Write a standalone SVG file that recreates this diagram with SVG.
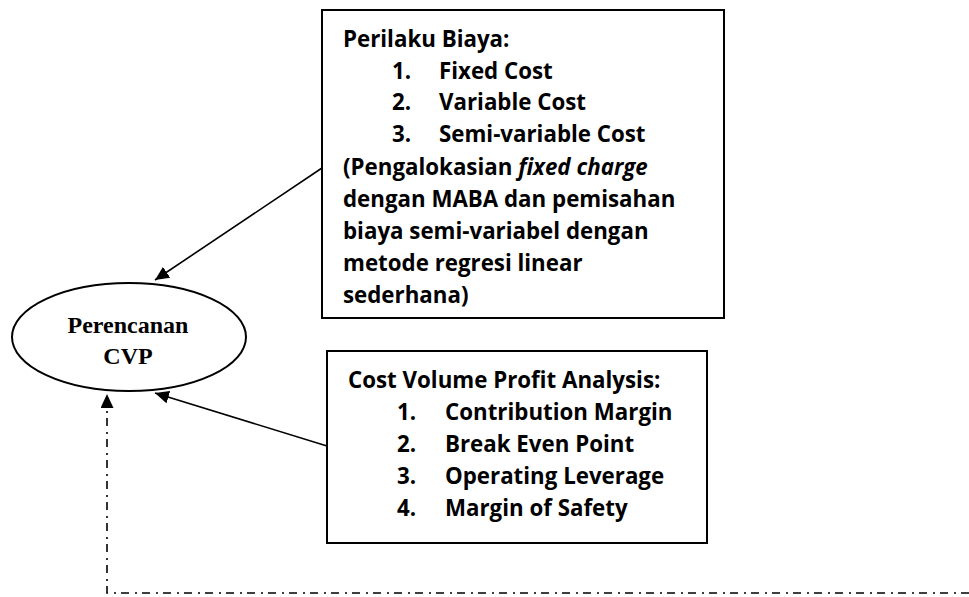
<svg xmlns="http://www.w3.org/2000/svg" width="969" height="597" viewBox="0 0 969 597">
<style>
.box{fill:#fff;stroke:#000;stroke-width:2}
.t{font-family:"Open Sans","Noto Sans","Liberation Sans",sans-serif;font-weight:bold;font-size:22.3px;fill:#000}
.e{font-family:"Liberation Serif","Times New Roman",serif;font-weight:bold;font-size:24px;fill:#000;text-anchor:middle}
.c{fill:none;stroke:#000;stroke-width:1.6}
.dd{stroke-dasharray:8,5,2,6}
</style>
<defs>
<marker id="ah" markerUnits="userSpaceOnUse" markerWidth="15" markerHeight="13" refX="14" refY="6.5" orient="auto">
<path d="M0,0 L14,6.5 L0,13 z" fill="#000"/>
</marker>
</defs>
<rect width="969" height="597" fill="#fff"/>
<g id="cvp">
<ellipse cx="129" cy="337" rx="117" ry="54" fill="#fff" stroke="#000" stroke-width="2"/>
<text class="e" x="128" y="333">Perencanan</text>
<text class="e" x="128" y="364">CVP</text>
</g>
<g id="perilaku">
<rect class="box" x="322" y="10" width="402" height="308"/>
<text class="t" x="343" y="47">Perilaku Biaya:</text>
<text class="t" x="392" y="79">1.</text><text class="t" x="439" y="79">Fixed Cost</text>
<text class="t" x="392" y="110">2.</text><text class="t" x="439" y="110">Variable Cost</text>
<text class="t" x="392" y="142">3.</text><text class="t" x="439" y="142">Semi-variable Cost</text>
<text class="t" x="343" y="175">(Pengalokasian <tspan font-style="italic">fixed charge</tspan></text>
<text class="t" x="343" y="207">dengan MABA dan pemisahan</text>
<text class="t" x="343" y="239">biaya semi-variabel dengan</text>
<text class="t" x="343" y="271">metode regresi linear</text>
<text class="t" x="343" y="303">sederhana)</text>
</g>
<g id="analysis">
<rect class="box" x="327" y="351" width="380" height="192"/>
<text class="t" x="348" y="388">Cost Volume Profit Analysis:</text>
<text class="t" x="397" y="420">1.</text><text class="t" x="445" y="420">Contribution Margin</text>
<text class="t" x="397" y="452">2.</text><text class="t" x="445" y="452">Break Even Point</text>
<text class="t" x="397" y="484">3.</text><text class="t" x="445" y="484">Operating Leverage</text>
<text class="t" x="397" y="516">4.</text><text class="t" x="445" y="516">Margin of Safety</text>
</g>
<g id="connectors">
<line class="c" x1="322" y1="168" x2="155" y2="280" marker-end="url(#ah)"/>
<line class="c" x1="327" y1="446" x2="155" y2="393" marker-end="url(#ah)"/>
<path class="c dd" d="M969,593 H107 V394" marker-end="url(#ah)"/>
</g>
</svg>
